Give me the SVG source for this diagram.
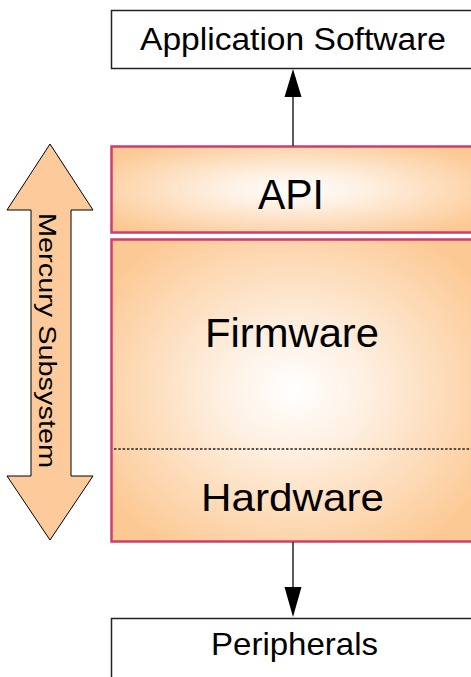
<svg xmlns="http://www.w3.org/2000/svg" width="471" height="677" viewBox="0 0 471 677">
  <defs>
    <radialGradient id="layerFill" cx="0.5" cy="0.5" r="0.62">
      <stop offset="0" stop-color="#FFFFFF"/>
      <stop offset="0.3" stop-color="#FEF1E4"/>
      <stop offset="1" stop-color="#FCC994"/>
    </radialGradient>
    <radialGradient id="coreFill" cx="0.5" cy="0.5" r="0.62">
      <stop offset="0" stop-color="#FFFFFF"/>
      <stop offset="0.3" stop-color="#FEF1E4"/>
      <stop offset="1" stop-color="#FCC994"/>
    </radialGradient>
  </defs>
  <style>
    text { font-family: "Liberation Sans", Arial, sans-serif; fill: #000; }
    .plain { fill: #FFFFFF; stroke: #222; stroke-width: 1.5; }
    .layer { stroke: #D03C6C; stroke-width: 2.5; }
    .link { stroke: #333; stroke-width: 1.6; fill: none; }
    .tip { fill: #000; }
    .split { stroke: #222; stroke-width: 1.3; stroke-dasharray: 2.5 1.8; }
    .span { fill: #FDCB9B; stroke: #000; stroke-width: 1; }
  </style>

  <g id="app-software">
    <rect class="plain" x="111.5" y="10.5" width="364" height="58"/>
    <text x="293" y="50" font-size="31" text-anchor="middle" textLength="306" lengthAdjust="spacingAndGlyphs">Application Software</text>
  </g>

  <g id="api">
    <rect class="layer" x="111.5" y="146.5" width="364" height="86" fill="url(#layerFill)"/>
    <text x="291" y="209" font-size="43" text-anchor="middle" textLength="66" lengthAdjust="spacingAndGlyphs">API</text>
  </g>

  <g id="firmware-hardware">
    <rect class="layer" x="111.5" y="239.5" width="364" height="302" fill="url(#coreFill)"/>
    <line class="split" x1="114" y1="449" x2="471" y2="449"/>
    <text x="292" y="347" font-size="40" text-anchor="middle" textLength="174" lengthAdjust="spacingAndGlyphs">Firmware</text>
    <text x="292.5" y="511" font-size="39" text-anchor="middle" textLength="183" lengthAdjust="spacingAndGlyphs">Hardware</text>
  </g>

  <g id="peripherals">
    <rect class="plain" x="111.5" y="618.5" width="364" height="70"/>
    <text x="294.5" y="655" font-size="32" text-anchor="middle" textLength="167" lengthAdjust="spacingAndGlyphs">Peripherals</text>
  </g>

  <g id="mercury-subsystem">
    <polygon class="span" points="50,144 93,210 71,210 71,476 93,476 50,540 7,476 31,476 31,210 7,210"/>
    <text transform="translate(39,340.5) rotate(90)" x="0" y="0" font-size="23" text-anchor="middle" textLength="255" lengthAdjust="spacingAndGlyphs">Mercury Subsystem</text>
  </g>

  <g id="connectors">
    <line class="link" x1="293" y1="146" x2="293" y2="92"/>
    <polygon class="tip" points="293,69 301.5,97 284.5,97"/>
    <line class="link" x1="293" y1="542" x2="293" y2="592"/>
    <polygon class="tip" points="293,617 301.5,587 284.5,587"/>
  </g>
</svg>
